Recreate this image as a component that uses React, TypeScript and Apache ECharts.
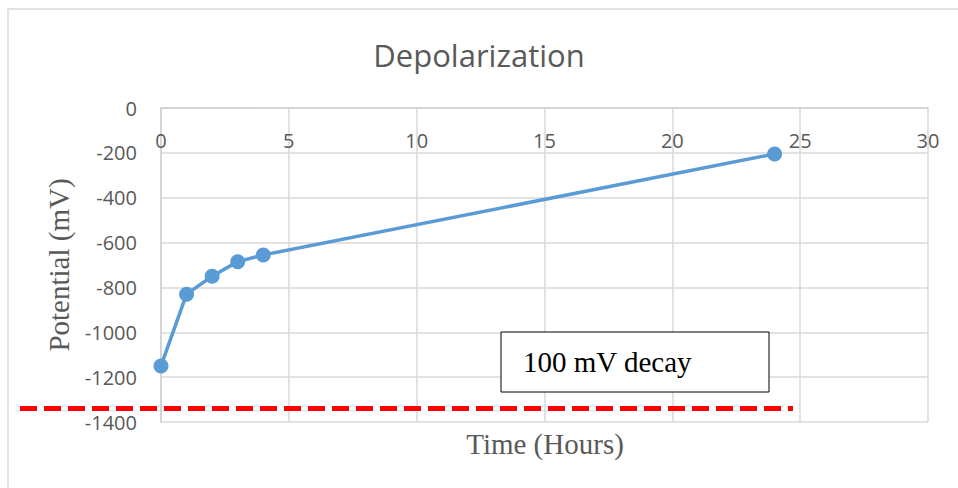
import React, { useEffect, useRef } from "react";
import * as echarts from "echarts";

const hours = [0, 1, 2, 3, 4, 24];
const potential = [-1150, -830, -750, -685, -655, -205];
const limitLevel = -1340;
const titleText = "Depolarization";
const xName = "Time (Hours)";
const yName = "Potential (mV)";
const noteText = "100 mV decay";

export default function App() {
  const ref = useRef<HTMLDivElement>(null);
  useEffect(() => {
    if (!ref.current) return;
    const chart = echarts.init(ref.current, null, { renderer: "svg" });
    const gray = "#595959";
    const option: any = {
      animation: false,
      backgroundColor: "#fff",
      title: {
        text: titleText,
        left: "center",
        top: 34,
        textStyle: { color: gray, fontSize: 31, fontWeight: "normal", fontFamily: "Open Sans" },
      },
      grid: { left: 161, right: 30, top: 108, bottom: 66 },
      xAxis: {
        type: "value",
        position: "top",
        min: 0,
        max: 30,
        interval: 5,
        axisLine: { show: true, lineStyle: { color: "#d0d0d0", width: 1.5 } },
        axisTick: { show: false },
        axisLabel: { inside: true, margin: 22, color: gray, fontSize: 20, fontFamily: "Open Sans" },
        splitLine: { show: true, lineStyle: { color: "#d9d9d9", width: 1.5 } },
      },
      yAxis: {
        type: "value",
        min: -1400,
        max: 0,
        interval: 200,
        axisLine: { show: true, onZero: false, lineStyle: { color: "#d0d0d0", width: 1.5 } },
        axisTick: { show: false },
        axisLabel: { margin: 24, color: gray, fontSize: 20, fontFamily: "Open Sans", formatter: (v: number) => String(v) },
        splitLine: { show: true, lineStyle: { color: "#d9d9d9", width: 1.5 } },
        name: yName,
        nameLocation: "middle",
        nameGap: 86,
        nameRotate: 90,
        nameTextStyle: { color: gray, fontSize: 29, fontFamily: "Liberation Serif" },
      },
      series: [
        {
          type: "line",
          data: hours.map((h, i) => [h, potential[i]]),
          lineStyle: { color: "#5B9BD5", width: 3.5 },
          itemStyle: { color: "#5B9BD5" },
          symbol: "circle",
          symbolSize: 15,
        },
      ],
    };
    chart.setOption(option);
    const yPix = chart.convertToPixel({ yAxisIndex: 0 }, limitLevel) as number;
    chart.setOption({
      graphic: [
        {
          type: "rect",
          shape: { x: 8, y: 9, width: 960, height: 490 },
          style: { fill: "none", stroke: "#d9d9d9", lineWidth: 1.5 },
          silent: true,
        },
        {
          type: "line",
          shape: { x1: 20, y1: yPix, x2: 793, y2: yPix },
          style: { stroke: "#ff0000", lineWidth: 5, lineDash: [17, 7] },
          z: 10,
        },
        {
          type: "rect",
          shape: { x: 501, y: 332, width: 268, height: 60 },
          style: { fill: "#fff", stroke: "#000", lineWidth: 1 },
          z: 10,
        },
        {
          type: "text",
          x: 523,
          y: 362,
          style: { text: noteText, fill: "#000", fontSize: 29, fontFamily: "Liberation Serif", verticalAlign: "middle" },
          z: 11,
        },
        {
          type: "text",
          x: 545,
          y: 444,
          style: { text: xName, fill: gray, fontSize: 29, fontFamily: "Liberation Serif", align: "center", verticalAlign: "middle" },
          z: 11,
        },
      ],
    });
    return () => chart.dispose();
  }, []);
  return <div ref={ref} style={{ position: "absolute", left: 0, top: 0, width: 958, height: 488 }} />;
}
